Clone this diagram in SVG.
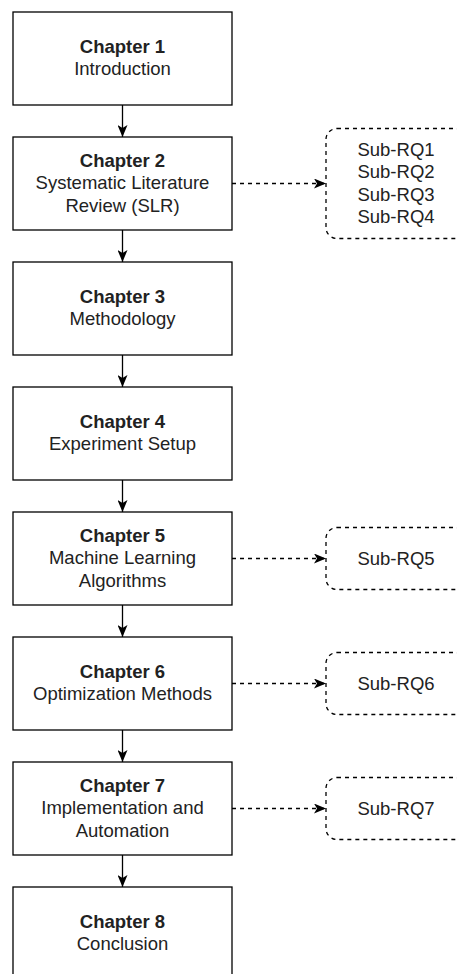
<svg xmlns="http://www.w3.org/2000/svg" width="457" height="974" viewBox="0 0 457 974">
  <style>
    .box { fill: #ffffff; stroke: #000000; stroke-width: 1.3; }
    .sub { fill: #ffffff; stroke: #000000; stroke-width: 1.3; stroke-dasharray: 4 4; }
    .flow { fill: none; stroke: #000000; stroke-width: 1.3; }
    .dash { fill: none; stroke: #000000; stroke-width: 1.3; stroke-dasharray: 4 4; }
    text { font-family: "Liberation Sans", Arial, sans-serif; font-size: 18.5px; fill: #222222; text-anchor: middle; }
    .title { font-weight: bold; }
  </style>
  <defs>
    <marker id="arrow" viewBox="0 0 12 10" refX="12" refY="5" markerWidth="12" markerHeight="10" markerUnits="userSpaceOnUse" orient="auto">
      <path d="M0,0 L12,5 L0,10 L3,5 Z" fill="#000000"/>
    </marker>
  </defs>

  <rect width="457" height="974" fill="#ffffff"/>

  <!-- connectors -->
  <g id="connectors">
    <line class="flow" x1="122.5" y1="105" x2="122.5" y2="137" marker-end="url(#arrow)"/>
    <line class="flow" x1="122.5" y1="230" x2="122.5" y2="262" marker-end="url(#arrow)"/>
    <line class="flow" x1="122.5" y1="355" x2="122.5" y2="387" marker-end="url(#arrow)"/>
    <line class="flow" x1="122.5" y1="480" x2="122.5" y2="512" marker-end="url(#arrow)"/>
    <line class="flow" x1="122.5" y1="605" x2="122.5" y2="637" marker-end="url(#arrow)"/>
    <line class="flow" x1="122.5" y1="730" x2="122.5" y2="762" marker-end="url(#arrow)"/>
    <line class="flow" x1="122.5" y1="855" x2="122.5" y2="887" marker-end="url(#arrow)"/>
    <line class="dash" x1="232" y1="183.5" x2="326" y2="183.5" marker-end="url(#arrow)"/>
    <line class="dash" x1="232" y1="558.5" x2="326" y2="558.5" marker-end="url(#arrow)"/>
    <line class="dash" x1="232" y1="683.5" x2="326" y2="683.5" marker-end="url(#arrow)"/>
    <line class="dash" x1="232" y1="808.5" x2="326" y2="808.5" marker-end="url(#arrow)"/>
  </g>

  <!-- chapter boxes -->
  <g id="ch1">
    <rect class="box" x="13" y="12" width="219" height="93"/>
    <text class="title" x="122.5" y="52.75">Chapter 1</text>
    <text x="122.5" y="75.25">Introduction</text>
  </g>
  <g id="ch2">
    <rect class="box" x="13" y="137" width="219" height="93"/>
    <text class="title" x="122.5" y="166.5">Chapter 2</text>
    <text x="122.5" y="189">Systematic Literature</text>
    <text x="122.5" y="211.5">Review (SLR)</text>
  </g>
  <g id="ch3">
    <rect class="box" x="13" y="262" width="219" height="93"/>
    <text class="title" x="122.5" y="302.75">Chapter 3</text>
    <text x="122.5" y="325.25">Methodology</text>
  </g>
  <g id="ch4">
    <rect class="box" x="13" y="387" width="219" height="93"/>
    <text class="title" x="122.5" y="427.75">Chapter 4</text>
    <text x="122.5" y="450.25">Experiment Setup</text>
  </g>
  <g id="ch5">
    <rect class="box" x="13" y="512" width="219" height="93"/>
    <text class="title" x="122.5" y="541.5">Chapter 5</text>
    <text x="122.5" y="564">Machine Learning</text>
    <text x="122.5" y="586.5">Algorithms</text>
  </g>
  <g id="ch6">
    <rect class="box" x="13" y="637" width="219" height="93"/>
    <text class="title" x="122.5" y="677.75">Chapter 6</text>
    <text x="122.5" y="700.25">Optimization Methods</text>
  </g>
  <g id="ch7">
    <rect class="box" x="13" y="762" width="219" height="93"/>
    <text class="title" x="122.5" y="791.5">Chapter 7</text>
    <text x="122.5" y="814">Implementation and</text>
    <text x="122.5" y="836.5">Automation</text>
  </g>
  <g id="ch8">
    <rect class="box" x="13" y="887" width="219" height="93"/>
    <text class="title" x="122.5" y="927.75">Chapter 8</text>
    <text x="122.5" y="950.25">Conclusion</text>
  </g>

  <!-- research question boxes -->
  <g id="rq1-4">
    <rect class="sub" x="326" y="128.5" width="140" height="110" rx="11" ry="11"/>
    <text x="396" y="155.75">Sub-RQ1</text>
    <text x="396" y="178.25">Sub-RQ2</text>
    <text x="396" y="200.75">Sub-RQ3</text>
    <text x="396" y="223.25">Sub-RQ4</text>
  </g>
  <g id="rq5">
    <rect class="sub" x="326" y="527.5" width="140" height="62" rx="11" ry="11"/>
    <text x="396" y="565">Sub-RQ5</text>
  </g>
  <g id="rq6">
    <rect class="sub" x="326" y="652.5" width="140" height="62" rx="11" ry="11"/>
    <text x="396" y="690">Sub-RQ6</text>
  </g>
  <g id="rq7">
    <rect class="sub" x="326" y="777.5" width="140" height="62" rx="11" ry="11"/>
    <text x="396" y="815">Sub-RQ7</text>
  </g>
</svg>
